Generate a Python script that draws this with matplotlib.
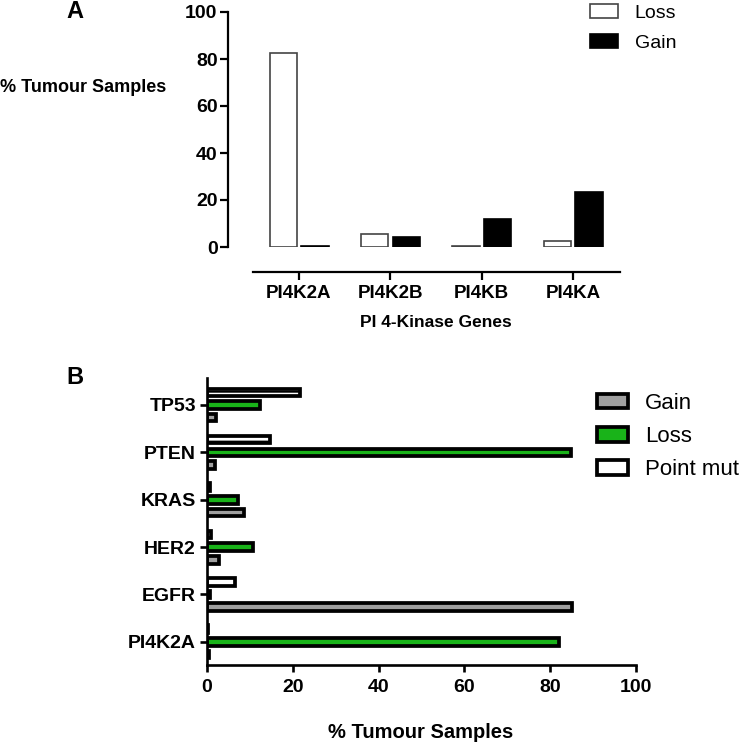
import matplotlib
matplotlib.use("Agg")
import matplotlib.pyplot as plt
import numpy as np

plt.rcParams['font.family'] = ['Liberation Sans', 'DejaVu Sans']
plt.rcParams['hatch.linewidth'] = 1.5

# ---------------- Data ----------------
genes_a = ["PI4K2A", "PI4K2B", "PI4KB", "PI4KA"]
loss_a = [82.5, 5.4, 0.6, 2.7]
gain_a = [0.3, 4.4, 11.8, 23.3]
yticks_a = [0, 20, 40, 60, 80, 100]

genes_b = ["PI4K2A", "EGFR", "HER2", "KRAS", "PTEN", "TP53"]
gain_b = [0.5, 85.1, 2.7, 8.6, 1.9, 2.0]
loss_b = [82.0, 0.8, 10.8, 7.3, 84.9, 12.3]
pmut_b = [0.3, 6.6, 0.9, 0.8, 14.8, 21.7]
xticks_b = [0, 20, 40, 60, 80, 100]

W, H = 742, 744
fig = plt.figure(figsize=(W / 100, H / 100), dpi=100)

def fx(px):
    return px / W

def fy(py):
    return 1 - py / H

# ---------------- Panel A ----------------
axA = fig.add_axes([fx(228), fy(247), fx(620 - 228), (247 - 12) / H])
xa = np.arange(len(genes_a))
axA.bar(xa - 0.17, loss_a, width=0.3, facecolor="white", edgecolor="#444444",
        linewidth=1.2, label="Loss")
axA.bar(xa + 0.175, gain_a, width=0.3, facecolor="black", edgecolor="black",
        linewidth=1.2, label="Gain")
axA.set_xlim(-0.777, 3.515)
axA.set_ylim(0, 100)
axA.set_yticks(yticks_a)
axA.set_xticks(xa)
axA.set_xticklabels(genes_a)
for s in ("top", "right"):
    axA.spines[s].set_visible(False)
axA.spines["left"].set_linewidth(1.6)
axA.spines["bottom"].set_linewidth(1.6)
axA.spines["bottom"].set_position(("outward", 18))
axA.spines["bottom"].set_bounds(-0.5, 3.515)
axA.tick_params(axis="y", length=6, width=1.6, pad=1.5, labelsize=14)
axA.tick_params(axis="x", length=6, width=1.6, pad=3, labelsize=13.5)
for lab in axA.get_xticklabels() + axA.get_yticklabels():
    lab.set_fontweight("bold")
axA.legend(loc="upper left", bbox_to_anchor=(fx(590), fy(4)),
           bbox_transform=fig.transFigure, frameon=False,
           fontsize=14, handlelength=1.45, handleheight=0.72,
           handletextpad=0.85, labelspacing=0.62, borderpad=0, borderaxespad=0)
fig.text(fx(0), fy(88), "% Tumour Samples", fontsize=13, fontweight="bold",
         ha="left", va="center")
fig.text(fx(436), fy(322), "PI 4-Kinase Genes", fontsize=12.5, fontweight="bold",
         ha="center", va="center")
fig.text(fx(75), fy(12), "A", fontsize=17, fontweight="bold",
         ha="center", va="center")

# ---------------- Panel B ----------------
axB = fig.add_axes([fx(207), fy(665), fx(636 - 207), (665 - 378) / H])
yb = np.arange(len(genes_b))
off = 0.268
hb = 0.16
lwb = 2.7
axB.barh(yb - off, gain_b, height=hb, facecolor="#a0a0a0", edgecolor="black",
         linewidth=lwb, label="Gain")
axB.barh(yb, loss_b, height=hb, facecolor="#19b319", edgecolor="black",
         linewidth=lwb, label="Loss")
axB.barh(yb + off, pmut_b, height=hb, facecolor="white", edgecolor="black",
         linewidth=lwb, hatch="-", label="Point mut")
axB.set_xlim(0, 100)
axB.set_ylim(-0.49, 5.57)
axB.set_xticks(xticks_b)
axB.set_yticks(yb)
axB.set_yticklabels(genes_b)
for s in ("top", "right"):
    axB.spines[s].set_visible(False)
axB.spines["left"].set_linewidth(1.9)
axB.spines["bottom"].set_linewidth(1.9)
axB.tick_params(axis="both", length=5, width=1.9, labelsize=14)
axB.tick_params(axis="x", pad=5)
axB.tick_params(axis="y", pad=3)
for lab in axB.get_xticklabels() + axB.get_yticklabels():
    lab.set_fontweight("bold")
axB.legend(loc="upper left", bbox_to_anchor=(fx(597), fy(393)),
           bbox_transform=fig.transFigure, frameon=False,
           fontsize=16, handlelength=1.4, handleheight=0.62,
           handletextpad=0.75, labelspacing=0.55, borderpad=0, borderaxespad=0)
fig.text(fx(421), fy(732), "% Tumour Samples", fontsize=14.5, fontweight="bold",
         ha="center", va="center")
fig.text(fx(75), fy(377), "B", fontsize=17, fontweight="bold",
         ha="center", va="center")

fig.savefig("out.png", dpi=100)
